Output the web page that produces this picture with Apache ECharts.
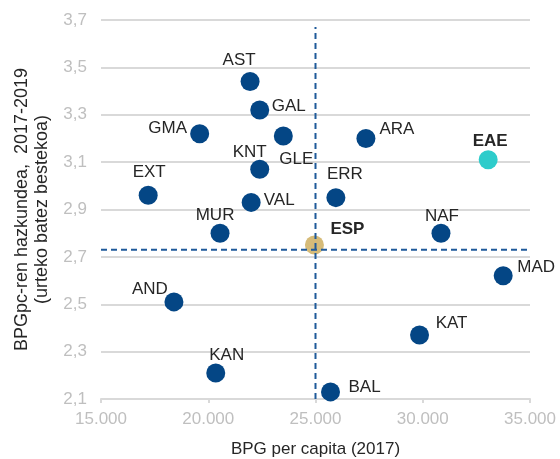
<!DOCTYPE html>
<html>
<head>
<meta charset="utf-8">
<script src="https://cdn.jsdelivr.net/npm/echarts@6/dist/echarts.min.js"></script>
<style>
  html, body { margin: 0; padding: 0; background: #fff; }
  #chart { width: 560px; height: 459px; }
</style>
</head>
<body>
<div id="chart"></div>
<script>
// eskualdeak eta balioak
var regions = ['AST', 'GAL', 'GMA', 'GLE', 'KNT', 'EXT', 'VAL', 'MUR', 'ARA', 'EAE', 'ERR', 'NAF', 'ESP', 'MAD', 'KAT', 'BAL', 'AND', 'KAN'];
var gdpPerCapita = [21950, 22400, 19600, 23500, 22400, 17200, 22000, 20550, 27350, 33050, 25950, 30850, 24950, 33750, 29850, 25700, 18400, 20350];
var growth = [3.44, 3.32, 3.22, 3.21, 3.07, 2.96, 2.93, 2.80, 3.20, 3.11, 2.95, 2.80, 2.75, 2.62, 2.37, 2.13, 2.51, 2.21];

// Espainiako batez bestekoak (erreferentzia lerroak)
var espGdp = [25000, 25000];
var espGdpRange = [2.1, 3.67];
var espGrowth = [2.73, 2.73];
var espGrowthRange = [15000, 35600];

// etiketen kokapena puntuarekiko (px)
var labelOffset = {
    AST: [-11, -21], GAL: [29, -4], GMA: [-32, -5], GLE: [13, 23], KNT: [-10, -17],
    EXT: [1, -23], VAL: [28, -2], MUR: [-5, -18], ARA: [31, -9], EAE: [2, -18],
    ERR: [9, -23], NAF: [1, -17], ESP: [33, -16], MAD: [33, -9], KAT: [32, -12],
    BAL: [34, -5], AND: [-24, -13], KAN: [11, -18]
};

var navy = '#044685';
var colorFor = { EAE: '#2ecccb', ESP: '#d6bb78' };

var points = [];
for (var i = 0; i < regions.length; i++) {
    var name = regions[i];
    var bold = (name === 'EAE' || name === 'ESP');
    points.push({
        name: name,
        value: [gdpPerCapita[i], growth[i]],
        itemStyle: { color: colorFor[name] || navy },
        label: {
            offset: labelOffset[name],
            fontWeight: bold ? 'bold' : 'normal'
        }
    });
}

function pairs(xs, ys) {
    var out = [];
    for (var i = 0; i < xs.length; i++) out.push([xs[i], ys[i]]);
    return out;
}

var chart = echarts.init(document.getElementById('chart'));
chart.setOption({
    animation: false,
    grid: { left: 101, right: 30, top: 20, bottom: 60, outerBoundsMode: 'none', containLabel: false },
    xAxis: {
        type: 'value',
        min: 15000,
        max: 35000,
        interval: 5000,
        name: 'BPG per capita (2017)',
        nameLocation: 'middle',
        nameGap: 42,
        nameMoveOverlap: false,
        nameTextStyle: { color: '#262626', fontSize: 17, fontFamily: 'Liberation Sans' },
        axisLine: { show: true, lineStyle: { color: '#d9d9d9', width: 2 } },
        axisTick: { show: true, length: 4, lineStyle: { color: '#d9d9d9', width: 2 } },
        axisLabel: {
            color: '#bfbfbf', fontSize: 17, fontFamily: 'Liberation Sans', margin: 12,
            formatter: function (v) { return String(v).replace(/\B(?=(\d{3})+(?!\d))/g, '.'); }
        },
        splitLine: { show: false }
    },
    yAxis: {
        type: 'value',
        min: 2.1,
        max: 3.7,
        interval: 0.2,
        name: 'BPGpc-ren hazkundea,  2017-2019\n(urteko batez bestekoa)',
        nameLocation: 'middle',
        nameRotate: 90,
        nameGap: 49,
        nameMoveOverlap: false,
        nameTextStyle: { color: '#262626', fontSize: 18, lineHeight: 20, fontFamily: 'Liberation Sans' },
        axisLine: { show: false },
        axisTick: { show: false },
        axisLabel: {
            color: '#bfbfbf', fontSize: 17, fontFamily: 'Liberation Sans', margin: 14,
            formatter: function (v) { return v.toFixed(1).replace('.', ','); }
        },
        splitLine: { show: true, lineStyle: { color: '#d9d9d9', width: 2 } }
    },
    series: [
        {
            type: 'scatter',
            symbolSize: 19,
            data: points,
            itemStyle: { opacity: 1 },
            label: {
                show: true,
                position: 'inside',
                align: 'center',
                verticalAlign: 'middle',
                color: '#262626',
                fontSize: 17,
                fontFamily: 'Liberation Sans',
                formatter: '{b}'
            }
        },
        {
            type: 'line',
            data: pairs(espGdp, espGdpRange),
            symbol: 'none',
            clip: false,
            silent: true,
            lineStyle: { color: '#1f5a9a', width: 2, type: [6, 4] }
        },
        {
            type: 'line',
            data: pairs(espGrowthRange, espGrowth),
            symbol: 'none',
            clip: false,
            silent: true,
            lineStyle: { color: '#1f5a9a', width: 2, type: [6, 4] }
        }
    ]
});
</script>
</body>
</html>
